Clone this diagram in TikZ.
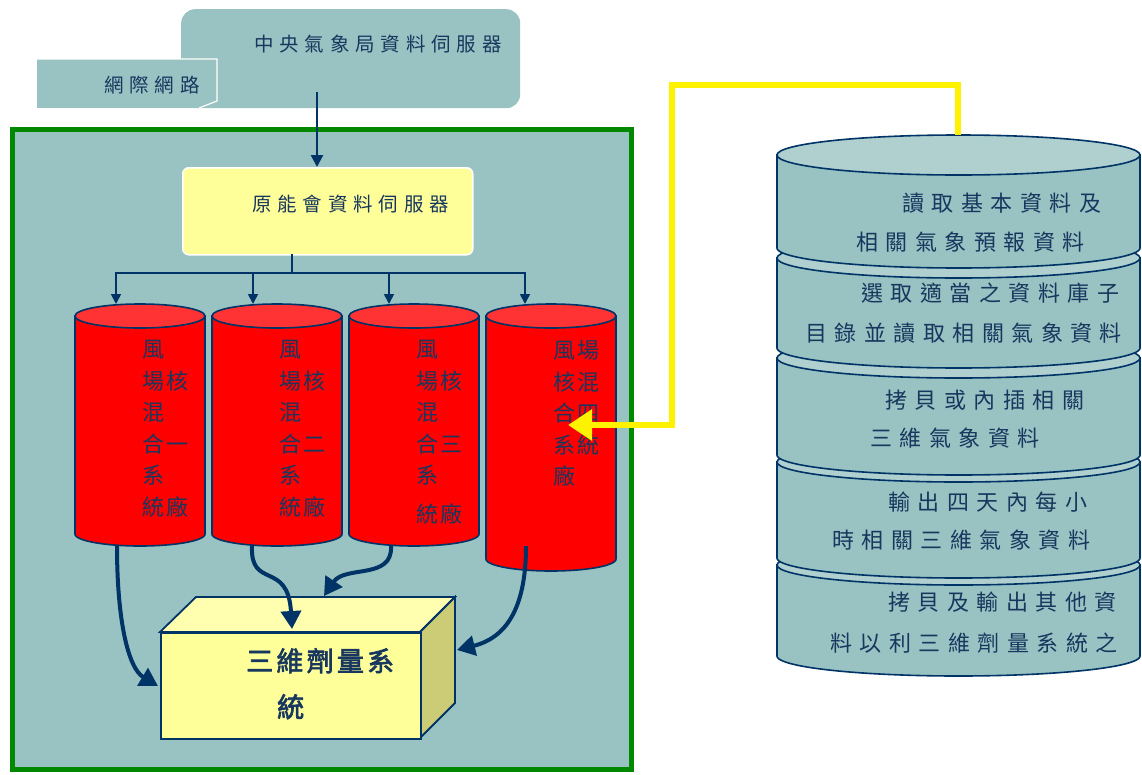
\documentclass[tikz,border=0pt]{standalone}
\usepackage{fontspec}
\usetikzlibrary{arrows.meta}
\newfontfamily\cjkt[LetterSpace=30]{Noto Sans CJK TC}
\newfontfamily\cjkc[LetterSpace=12]{Noto Sans CJK TC}
\newfontfamily\cjks[LetterSpace=34]{Noto Sans CJK TC}
\newfontfamily\cjkb[LetterSpace=12,FakeBold=2.5]{Noto Sans CJK TC}
\definecolor{teal1}{RGB}{153,194,194}
\definecolor{teal2}{RGB}{176,208,208}
\definecolor{navy}{RGB}{0,51,102}
\definecolor{txt}{RGB}{23,55,94}
\definecolor{lyellow}{RGB}{255,255,153}
\definecolor{ltop}{RGB}{255,255,175}
\definecolor{olive}{RGB}{204,204,119}
\definecolor{grn}{RGB}{0,136,0}
\definecolor{cylred}{RGB}{255,0,0}
\definecolor{cyltop}{RGB}{255,51,51}
\newcommand{\cylshape}[7]{%
  \filldraw[draw=navy, line width=1.6pt, fill=#6] (#1-#4,#2) -- (#1-#4,#3) -- plot[domain=180:0,samples=60,variable=\t] ({#1+#4*cos(\t)},{#3+#5*sin(\t)}) -- (#1+#4,#2) -- cycle;
  \filldraw[draw=navy, line width=1.6pt, fill=#7] (#1,#2) ellipse [x radius=#4, y radius=#5];
}
\tikzset{
  toptext/.style={inner sep=0pt, anchor=west, text=txt, font=\cjkt\fontsize{19.5}{24}\selectfont},
  stacktext/.style={inner sep=0pt, anchor=west, text=txt, font=\cjks\fontsize{22}{26}\selectfont},
  cyltext/.style={inner sep=0pt, anchor=north west, align=left, text=txt, font=\cjkc\fontsize{22}{31.6}\selectfont},
  treearrow/.style={draw=navy, line width=1.8pt, -{Triangle[length=10pt,width=10pt]}},
  curvearrow/.style={draw=navy, line width=4pt, -{Triangle[length=18pt,width=20pt]}},
}
\begin{document}
\begin{tikzpicture}[x=1pt,y=-1pt]
\useasboundingbox (0,0) rectangle (1142,774);
\fill[white] (0,0) rectangle (1142,774);

% top server box
\node[fill=teal1, rounded corners=14pt, minimum width=339pt, minimum height=99pt, anchor=north west, inner sep=0pt] (cwb) at (181,9) {};
\node[toptext] (cwbtext) at (254,44) {中央氣象局資料伺服器};
% internet callout
\fill[teal1] (37,59) rectangle (217,108);
\draw[white, line width=1.2pt] (37,59) -- (217,59) -- (217,101) -- (199,108);
\node[toptext] (net) at (104,85) {網際網路};

% green frame
\filldraw[fill=teal1, draw=grn, line width=5pt] (12.5,129.5) rectangle (631.5,769.5);

% AEC server box
\node[fill=lyellow, draw=white, line width=1.5pt, rounded corners=6pt, minimum width=290pt, minimum height=87pt, anchor=north west, inner sep=0pt] (aec) at (182,167) {};
\node[toptext] (aectext) at (252,204) {原能會資料伺服器};

\coordinate (cwbout) at (317,92);
\draw[treearrow, line width=2.5pt, -{Triangle[length=12pt,width=12pt]}] (cwbout) -- (aec.north -| cwbout);

% tree
\coordinate (aecb) at (292,254);
\coordinate (bus) at (292,273);
\coordinate (c1t) at (116,304);
\coordinate (c2t) at (253,304);
\coordinate (c3t) at (389,304);
\coordinate (c4t) at (525,304);
\draw[draw=navy, line width=1.8pt] (aecb) -- (bus);
\foreach \c in {c1t,c2t,c3t,c4t} \draw[treearrow] (bus) -| (\c);

% red cylinders
\cylshape{140}{316}{534}{65}{12}{cylred}{cyltop}
\cylshape{277}{316}{534}{65}{12}{cylred}{cyltop}
\cylshape{414}{316}{534}{65}{12}{cylred}{cyltop}
\cylshape{551}{316}{559}{65}{12}{cylred}{cyltop}
\node[cyltext] (cyl1) at (142,340) {風\\場核\\混\\合一\\系\\統廠};
\node[cyltext] (cyl2) at (279,340) {風\\場核\\混\\合二\\系\\統廠};
\node[cyltext] (cyl3) at (416,340) {風\\場核\\混\\合三\\系\\[7pt]統廠};
\node[cyltext] (cyl4) at (553,340) {風場\\核混\\合四\\系統\\廠};

% 3D dose box
\filldraw[draw=navy, line width=1.8pt, fill=ltop] (160,632) -- (196,597) -- (455,597) -- (420,632) -- cycle;
\filldraw[draw=navy, line width=1.8pt, fill=olive] (420,632) -- (455,597) -- (455,703) -- (420,738) -- cycle;
\node[draw=navy, line width=1.8pt, fill=lyellow, anchor=north west, minimum width=260pt, minimum height=106pt, inner sep=0pt] (dose) at (160,632) {};
\node[inner sep=0pt, anchor=north west, align=left, text=txt, font=\cjkb\fontsize{27}{46}\selectfont] (dosetext) at (246,648) {三維劑量系\\\hspace{31pt}統};

% curved arrows
\coordinate (c1b) at (117,546);
\coordinate (c2b) at (252,546);
\coordinate (c3b) at (391,546);
\coordinate (c4b) at (526,546);
\coordinate (d1) at (158,686);
\coordinate (d2) at (292,629);
\coordinate (d3) at (324,596);
\coordinate (d4) at (457,650);
\draw[curvearrow] (c1b) .. controls (117,620) and (128,668) .. (d1);
\draw[curvearrow] (c2b) .. controls (250,590) and (288,560) .. (d2);
\draw[curvearrow] (c3b) .. controls (393,580) and (345,565) .. (d3);
\draw[curvearrow] (c4b) .. controls (526,610) and (505,638) .. (d4);

% right stack
\cylshape{958.5}{565}{656}{181.5}{20}{teal1}{teal2}
\cylshape{958.5}{462}{558}{181.5}{20}{teal1}{teal2}
\cylshape{958.5}{358}{455}{181.5}{20}{teal1}{teal2}
\cylshape{958.5}{258}{348}{181.5}{20}{teal1}{teal2}
\cylshape{958.5}{155}{248}{181.5}{20}{teal1}{teal2}
\node[stacktext] (s1a) at (902,203) {讀取基本資料及};
\node[stacktext] (s1b) at (856,242) {相關氣象預報資料};
\node[stacktext] (s2a) at (861,293) {選取適當之資料庫子};
\node[stacktext] (s2b) at (805,333) {目錄並讀取相關氣象資料};
\node[stacktext] (s3a) at (885,400) {拷貝或內插相關};
\node[stacktext] (s3b) at (870,438) {三維氣象資料};
\node[stacktext] (s4a) at (888,502) {輸出四天內每小};
\node[stacktext] (s4b) at (832,540) {時相關三維氣象資料};
\node[stacktext] (s5a) at (888,602) {拷貝及輸出其他資};
\node[stacktext] (s5b) at (830,643) {料以利三維劑量系統之};

% yellow connector
\coordinate (stacktop) at (958,135);
\coordinate (ya) at (958,85);
\coordinate (yb) at (672,425);
\coordinate (c4in) at (568,425);
\draw[yellow, line width=6pt, -{Triangle[length=24pt,width=30pt]}] (stacktop) -- (ya) -| (yb) -- (c4in);
\end{tikzpicture}
\end{document}
